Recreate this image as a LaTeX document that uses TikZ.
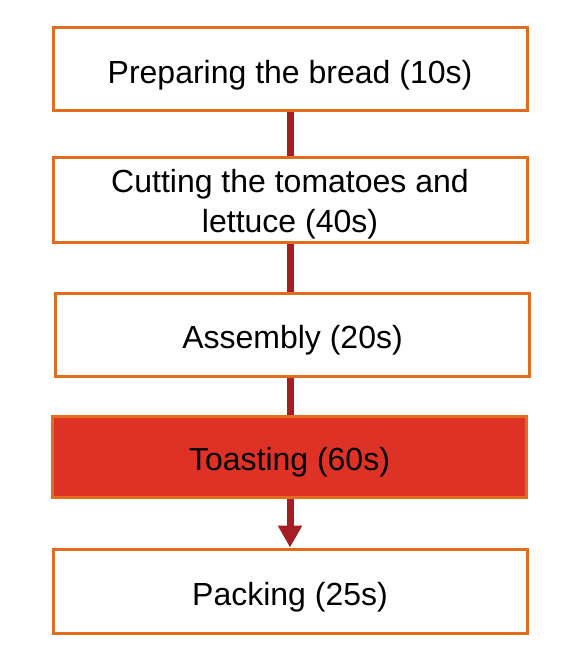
\documentclass[tikz,border=0pt]{standalone}
\usepackage{fontspec}
\setmainfont{Liberation Sans}
\usetikzlibrary{arrows.meta}
\definecolor{boxedge}{RGB}{224,108,30}
\definecolor{linkred}{RGB}{163,31,36}
\definecolor{hotfill}{RGB}{222,50,38}
\begin{document}
\begin{tikzpicture}[x=1pt,y=-1pt]
  \tikzstyle{stage}=[draw=boxedge, line width=3pt, fill=white, minimum width=474pt,
    minimum height=83pt, align=center, font=\fontsize{32}{40}\selectfont, inner sep=0pt,
    text height=28pt, text depth=0pt]
  \tikzstyle{link}=[draw=linkred, line width=7pt]
  \useasboundingbox (0,0) rectangle (576,666);

  \node[stage] (bread) at (290,69.5) {Preparing the bread (10s)};
  \node[stage, minimum height=85pt, text height=65pt] (cut) at (290,199.5) {Cutting the tomatoes and\\lettuce (40s)};
  \node[stage] (assembly) at (292.5,334.5) {Assembly (20s)};
  \node[stage, fill=hotfill, minimum height=81pt] (toast) at (289.5,456.5) {Toasting (60s)};
  \node[stage, minimum height=84pt] (pack) at (290,591) {Packing (25s)};

  \draw[link] (bread.south) -- (cut.north);
  \draw[link] (cut.south) -- (cut.south |- assembly.north);
  \draw[link] (cut.south |- assembly.south) -- (cut.south |- toast.north);
  \draw[link, -{Triangle[width=23pt,length=22pt]}] (cut.south |- toast.south) -- (cut.south |- pack.north);
\end{tikzpicture}
\end{document}
